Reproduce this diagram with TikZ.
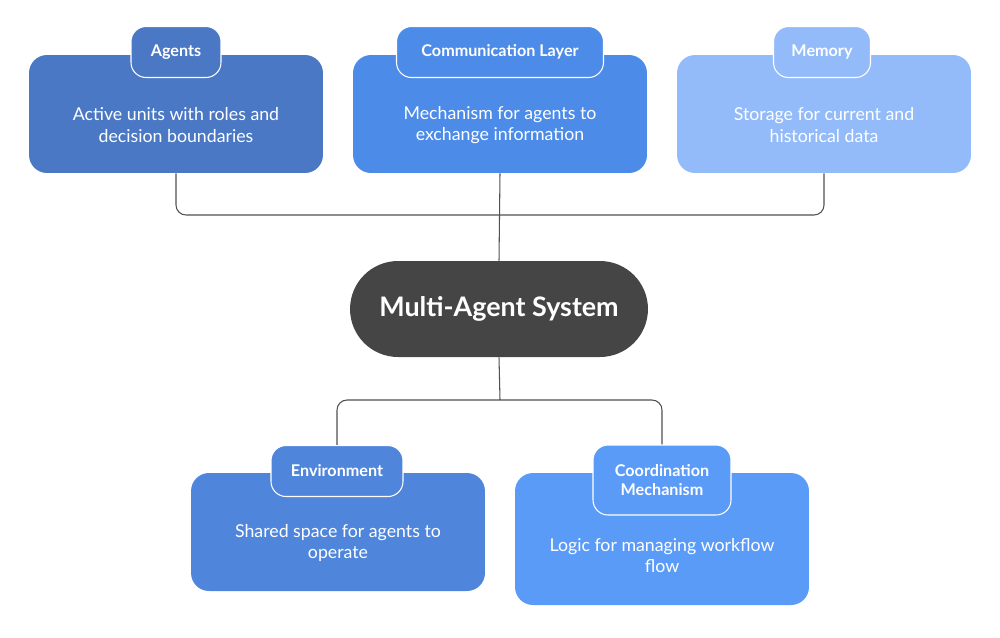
\documentclass[tikz,border=0pt]{standalone}
\usepackage{fontspec}
\setmainfont{Lato}
\usetikzlibrary{positioning}
\definecolor{agentblue}{HTML}{4A78C4}
\definecolor{commblue}{HTML}{4C8BE8}
\definecolor{memblue}{HTML}{93BBFA}
\definecolor{envblue}{HTML}{4F86DC}
\definecolor{coordblue}{HTML}{5B9BF8}
\definecolor{hubgray}{HTML}{454545}
\definecolor{linkgray}{HTML}{505050}
\tikzset{
  card/.style={rounded corners=0.36cm, minimum width=5.88cm, minimum height=2.36cm,
    text=white, align=center, font=\fontsize{10.1}{12.2}\selectfont, inner sep=0pt},
  tab/.style={rounded corners=0.3cm, draw=white, line width=0.6pt, minimum height=1.02cm,
    text=white, align=center, font=\bfseries\fontsize{9.2}{11}\selectfont, inner sep=0pt},
  hub/.style={rounded corners=0.96cm, fill=hubgray, minimum width=5.96cm, minimum height=1.92cm,
    text=white, font=\bfseries\fontsize{15.3}{18}\selectfont},
  link/.style={draw=linkgray, line width=0.6pt, rounded corners=0.2cm}
}
\begin{document}
\begin{tikzpicture}[x=0.02cm, y=-0.02cm]
\useasboundingbox (0,0) rectangle (1000,637);

% top row
\node[card, fill=agentblue] (agents) at (176,114) {\\[8pt]Active units with roles and\\decision boundaries};
\node[card, fill=commblue] (comm) at (500,114) {\\[8pt]Mechanism for agents to\\exchange information};
\node[card, fill=memblue] (memory) at (824,114) {\\[8pt]Storage for current and\\historical data};
\node[tab, fill=agentblue, minimum width=1.8cm] (agentsTab) at (176,52) {Agents};
\node[tab, fill=commblue, minimum width=4.14cm] (commTab) at (500,52) {Communication Layer};
\node[tab, fill=memblue, minimum width=1.94cm] (memoryTab) at (822,52) {Memory};

% hub
\node[hub] (mas) at (499,309) {Multi-Agent System};

% bottom row
\node[card, fill=envblue] (env) at (338,532) {\\[8pt]Shared space for agents to\\operate};
\node[card, fill=coordblue, minimum height=2.64cm] (coord) at (662,539) {\\[14pt]Logic for managing workflow\\flow};
\node[tab, fill=envblue, minimum width=2.64cm] (envTab) at (337,471) {Environment};
\node[tab, fill=coordblue, minimum width=2.76cm, minimum height=1.4cm] (coordTab) at (662,480) {Coordination\\Mechanism};

% connectors
\coordinate (topJoin) at (500,215);
\coordinate (botJoin) at (500,400);
\draw[link] (agents.south) |- (topJoin) -| (memory.south);
\draw[link] (comm.south) -- (mas.north);
\draw[link] (mas.south) -- (botJoin);
\draw[link] (envTab.north) |- (botJoin) -| (coordTab.north);
\end{tikzpicture}
\end{document}
